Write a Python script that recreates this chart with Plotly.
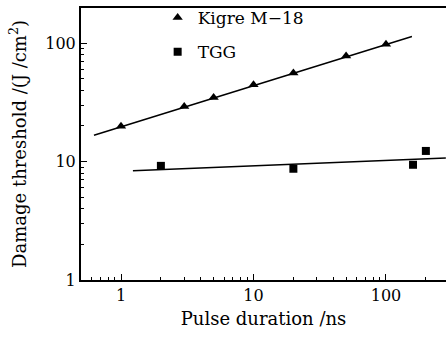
import plotly.graph_objects as go

# Data
kigre_x = [1, 3, 5, 10, 20, 50, 100]
kigre_y = [19.9, 29.2, 34.8, 44.6, 56, 78, 98]
kigre_fit_x = [0.625, 157]
kigre_fit_y = [16.7, 114]

tgg_x = [2, 20, 160, 200]
tgg_y = [9.2, 8.7, 9.4, 12.3]
tgg_fit_x = [1.23, 283]
tgg_fit_y = [8.36, 10.7]

tick_vals = [1, 10, 100]
tick_text = ["1", "10", "100"]
minor_x = [0.6, 0.7, 0.8, 0.9] + [m * d for d in (1, 10, 100) for m in range(2, 10)]
minor_y = [m * d for d in (1, 10, 100) for m in range(2, 10)]

FONT = "DejaVu Serif"

fig = go.Figure()
fig.add_trace(go.Scatter(x=kigre_fit_x, y=kigre_fit_y, mode="lines",
                         line=dict(color="black", width=1.5), showlegend=False))
fig.add_trace(go.Scatter(x=tgg_fit_x, y=tgg_fit_y, mode="lines",
                         line=dict(color="black", width=1.5), showlegend=False))
fig.add_trace(go.Scatter(x=kigre_x, y=kigre_y, mode="markers", name="Kigre M\u221218",
                         legendgroup="a",
                         marker=dict(symbol="triangle-up", size=9, color="black")))
fig.add_trace(go.Scatter(x=tgg_x, y=tgg_y, mode="markers", name="TGG",
                         legendgroup="b",
                         marker=dict(symbol="square", size=8, color="black")))

fig.update_layout(
    width=446, height=339,
    margin=dict(l=81, r=0, t=5, b=59),
    paper_bgcolor="white", plot_bgcolor="white",
    font=dict(family=FONT, size=16, color="black"),
    legend=dict(x=0.21, y=1.03, xanchor="left", yanchor="top",
                bgcolor="rgba(0,0,0,0)", traceorder="grouped", tracegroupgap=9,
                font=dict(family=FONT, size=17)),
    xaxis=dict(type="log", range=[-0.302, 2.453], automargin=False,
               tickvals=tick_vals, ticktext=tick_text,
               ticks="inside", ticklen=6, tickwidth=1.2, tickcolor="black",
               minor=dict(tickmode="array", tickvals=minor_x, ticks="inside", ticklen=3,
                          tickwidth=1, tickcolor="black", showgrid=False),
               showline=True, linewidth=2, linecolor="black", mirror=True,
               showgrid=False, zeroline=False,
               tickfont=dict(family=FONT, size=16),
               title=dict(text="Pulse duration /ns", font=dict(family=FONT, size=18), standoff=8)),
    yaxis=dict(type="log", range=[0, 2.297], automargin=False,
               tickvals=tick_vals, ticktext=tick_text,
               ticks="inside", ticklen=6, tickwidth=1.2, tickcolor="black",
               minor=dict(tickmode="array", tickvals=minor_y, ticks="inside", ticklen=3,
                          tickwidth=1, tickcolor="black", showgrid=False),
               showline=True, linewidth=2, linecolor="black",
               showgrid=False, zeroline=False,
               tickfont=dict(family=FONT, size=16),
               title=dict(text="Damage threshold /(J /cm<sup>2</sup>)", font=dict(family=FONT, size=18), standoff=14)),
)

fig.write_html("out.html", config={"displayModeBar": False},
               post_script="document.body.style.margin='0';")
